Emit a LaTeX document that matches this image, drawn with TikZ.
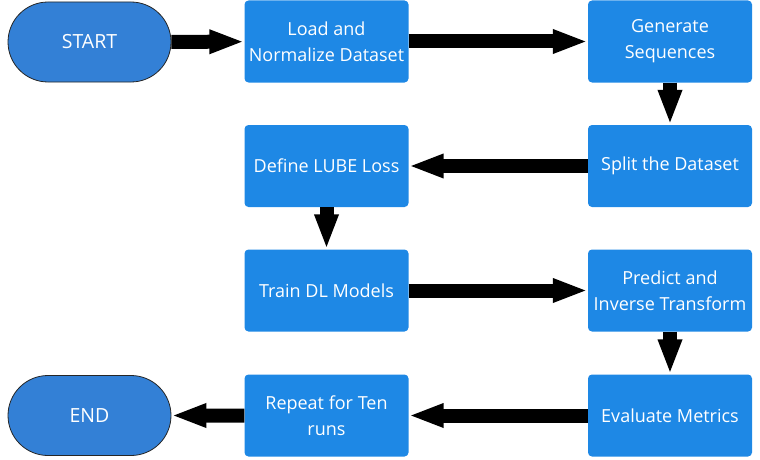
\documentclass[tikz,border=0pt]{standalone}
\usepackage{fontspec}
\setmainfont{Open Sans}
\usetikzlibrary{arrows.meta,shapes.misc}
\definecolor{boxblue}{HTML}{1E88E5}
\definecolor{termblue}{HTML}{3380D6}
\tikzset{
  stepbox/.style={draw=none, fill=boxblue, rounded corners=4pt, minimum width=164pt, minimum height=82pt,
    text=white, align=center, font=\fontsize{18}{26}\selectfont, inner sep=0pt},
  term/.style={rounded rectangle, draw=black!85, line width=0.8pt, fill=termblue, minimum width=163pt, minimum height=80pt,
    text=white, font=\fontsize{19.5}{24}\selectfont, inner sep=0pt},
  flow/.style={line width=14pt, -{Triangle[length=35pt,width=22pt]}, shorten >=0pt}
}
\begin{document}
\begin{tikzpicture}[x=1pt,y=-1pt]
\useasboundingbox (0,0) rectangle (760,460);
\node[term] (start) at (89.5,42) {START};
\node[stepbox] (load) at (326.5,41.5) {Load and\\Normalize Dataset};
\node[stepbox] (gen) at (670,41.5) {Generate\\Sequences};
\node[stepbox] (split) at (670,166) {Split the Dataset};
\node[stepbox] (lube) at (326.5,166) {Define LUBE Loss};
\node[stepbox] (train) at (326.5,290.5) {Train DL Models};
\node[stepbox] (pred) at (670,290.5) {Predict and\\Inverse Transform};
\node[stepbox] (eval) at (670,415.5) {Evaluate Metrics};
\node[stepbox] (rep) at (326.5,415.5) {Repeat for Ten\\runs};
\node[term] (end) at (89.5,415.5) {END};
\draw[flow] (start) -- (load);
\draw[flow] (load) -- (gen);
\draw[flow] (gen) -- (split);
\draw[flow] (split) -- (lube);
\draw[flow] (lube) -- (train);
\draw[flow] (train) -- (pred);
\draw[flow] (pred) -- (eval);
\draw[flow] (eval) -- (rep);
\draw[flow] (rep) -- (end);
\end{tikzpicture}
\end{document}
